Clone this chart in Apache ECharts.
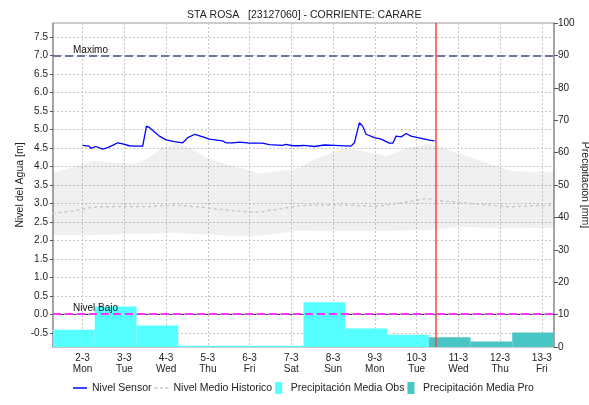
<!DOCTYPE html>
<html>
<head>
<meta charset="utf-8">
<script src="https://cdn.jsdelivr.net/npm/echarts@6/dist/echarts.min.js"></script>
<style>
  html, body { margin: 0; padding: 0; background: #fff; }
  #chart { width: 589px; height: 405px; }
</style>
</head>
<body>
<div id="chart"></div>
<script>
// eje x: dias de marzo (la jornada va de 07:00 a 07:00)
const tickDays = [2, 3, 4, 5, 6, 7, 8, 9, 10, 11, 12, 13]
const tickWeekdays = ['Mon', 'Tue', 'Wed', 'Thu', 'Fri', 'Sat', 'Sun', 'Mon', 'Tue', 'Wed', 'Thu', 'Fri']
const monthNum = 3
const dayStartHour = 7
const levelTicks = [-0.5, 0, 0.5, 1, 1.5, 2, 2.5, 3, 3.5, 4, 4.5, 5, 5.5, 6, 6.5, 7, 7.5]

// nivel del sensor [m]
const sensorDay = [2.00, 2.16, 2.20, 2.32, 2.48, 2.60, 2.72, 2.84, 2.96, 3.12, 3.24, 3.44, 3.53, 3.60, 3.72, 3.84,
  4.00, 4.20, 4.40, 4.52, 4.69, 4.88, 5.04, 5.35, 5.44, 5.59, 5.76, 6.00, 6.31, 6.47, 6.79, 6.87, 7.03, 7.19,
  7.31, 7.55, 7.79, 8.03, 8.43, 8.51, 8.63, 8.71, 8.79, 8.99, 9.15, 9.35, 9.43, 9.51, 9.63, 9.75, 9.87, 10.03,
  10.19, 10.31, 10.43]
const sensorLevel = [4.57, 4.55, 4.49, 4.54, 4.47, 4.51, 4.57, 4.64, 4.61, 4.56, 4.55, 4.55, 5.09, 5.05, 4.94, 4.82,
  4.72, 4.67, 4.64, 4.78, 4.87, 4.80, 4.74, 4.69, 4.64, 4.64, 4.66, 4.63, 4.63, 4.59, 4.57, 4.60, 4.56, 4.56,
  4.57, 4.54, 4.58, 4.57, 4.55, 4.64, 5.18, 5.09, 4.87, 4.78, 4.74, 4.63, 4.63, 4.82, 4.80, 4.89, 4.82, 4.78,
  4.74, 4.71, 4.69]

// historico: minimo, maximo y medio [m]
const histDay = [1.28, 1.75, 2.25, 2.75, 3.25, 3.6, 3.9, 4.25, 4.55, 5.0, 5.5, 6.0, 6.25, 6.75, 7.2, 7.55, 8.0,
  8.3, 8.7, 9.0, 9.3, 9.7, 10.25, 10.5, 11.0, 11.5, 12.0, 12.3, 12.75, 13.3]
const histMin = [2.15, 2.15, 2.15, 2.16, 2.18, 2.19, 2.20, 2.22, 2.18, 2.16, 2.13, 2.12, 2.13, 2.20, 2.27, 2.26, 2.26,
  2.26, 2.26, 2.26, 2.26, 2.27, 2.28, 2.30, 2.37, 2.35, 2.33, 2.33, 2.34, 2.34]
const histMax = [3.83, 3.98, 4.15, 4.11, 4.07, 4.24, 4.50, 4.64, 4.51, 4.22, 4.05, 3.90, 3.81, 3.88, 3.96, 4.20, 4.38,
  4.50, 4.42, 4.35, 4.28, 4.47, 4.62, 4.56, 4.36, 4.17, 3.98, 3.87, 3.86, 3.86]
const histMean = [2.73, 2.80, 2.90, 2.92, 2.92, 2.92, 2.94, 2.96, 2.93, 2.88, 2.82, 2.77, 2.77, 2.86, 2.94, 2.96, 2.96,
  2.96, 2.94, 2.92, 2.96, 3.03, 3.14, 3.08, 3.03, 2.98, 2.93, 2.91, 2.94, 2.96]

// precipitacion diaria [mm]
const obsDay = [1, 2, 3, 4, 5, 6, 7, 8, 9]
const obsRain = [5.3, 12.5, 6.6, 0.4, 0.4, 0.4, 13.8, 5.7, 3.8]
const proDay = [10, 11, 12]
const proRain = [3.0, 1.7, 4.5]

// umbrales y hora actual
const nivelMaximo = 7.0
const nivelBajo = 0.03
const nowDay = 10.45

const FONT = 'Liberation Sans'
const chart = echarts.init(document.getElementById('chart'))

const barItem = (params, api) => {
  const p0 = api.coord([api.value(0), api.value(2)])
  const p1 = api.coord([api.value(1), 0])
  return {
    type: 'rect',
    shape: { x: p0[0], y: p0[1], width: p1[0] - p0[0], height: p1[1] - p0[1] },
    style: api.style(),
  }
}

// banda historica min-max como un solo poligono
const bandItem = (params, api) => {
  if (params.dataIndex !== 0) return null
  const pts = []
  for (let i = 0; i < histDay.length; i++) pts.push(api.coord([histDay[i], histMax[i]]))
  for (let i = histDay.length - 1; i >= 0; i--) pts.push(api.coord([histDay[i], histMin[i]]))
  return { type: 'polygon', shape: { points: pts }, style: { fill: 'rgba(0,0,0,0.06)' } }
}

const toBars = (days, vals) => days.map((d, i) => [d + dayStartHour / 24, d + 1 + dayStartHour / 24, vals[i]])

const option = {
  animation: false,
  textStyle: { fontFamily: FONT },
  title: {
    text: 'STA ROSA   [23127060] - CORRIENTE: CARARE',
    left: 182,
    top: 5,
    textStyle: { fontSize: 10.5, fontWeight: 'normal', color: '#222', fontFamily: FONT },
  },
  grid: {
    left: 53,
    right: 35,
    top: 23,
    bottom: 58,
    containLabel: false,
    outerBoundsMode: 'none',
    show: true,
    borderColor: '#999',
    borderWidth: 1,
  },
  legend: {
    bottom: 6,
    left: 68,
    itemWidth: 14,
    itemHeight: 12,
    itemGap: 3,
    textStyle: { fontSize: 10.5, color: '#222', fontFamily: FONT },
    data: [
      { name: 'Nivel Sensor', icon: 'path://M0,0H14V1.5H0Z' },
      { name: 'Nivel Medio Historico', icon: 'path://M0,0H3V1.5H0ZM5,0H8V1.5H5ZM10,0H13V1.5H10Z' },
      { name: 'Precipitación Media Obs', icon: 'path://M0,0H7V12H0Z' },
      { name: 'Precipitación Media Pro', icon: 'path://M0,0H7V12H0Z' },
    ],
  },
  xAxis: {
    type: 'value',
    min: 1 + dayStartHour / 24,
    max: 13 + dayStartHour / 24,
    axisLine: { show: true, lineStyle: { color: '#333', type: 'dotted' } },
    axisTick: { show: false, customValues: tickDays },
    axisLabel: {
      customValues: tickDays,
      fontSize: 10,
      color: '#222',
      lineHeight: 11,
      margin: 6,
      formatter: (v) => {
        const i = tickDays.indexOf(v)
        return tickDays[i] + '-' + monthNum + '\n' + tickWeekdays[i]
      },
    },
    splitLine: { show: true, lineStyle: { color: '#c8c8c8', type: [2, 2] } },
  },
  yAxis: [
    {
      type: 'value',
      min: -0.875,
      max: 7.875,
      name: 'Nivel del Agua [m]',
      nameLocation: 'middle',
      nameMoveOverlap: false,
      nameGap: 27,
      nameTextStyle: { fontSize: 10.5, color: '#222' },
      axisLine: { show: true, lineStyle: { color: '#999', width: 1.5 } },
      axisTick: { show: true, length: 3, customValues: levelTicks, lineStyle: { color: '#555' } },
      axisLabel: {
        customValues: levelTicks,
        fontSize: 10,
        color: '#222',
        margin: 5,
        formatter: (v) => v.toFixed(1),
      },
      splitLine: { show: true, lineStyle: { color: '#c8c8c8', type: [2, 2] } },
    },
    {
      type: 'value',
      min: 0,
      max: 100,
      interval: 10,
      position: 'right',
      name: 'Precipitación [mm]',
      nameLocation: 'middle',
      nameMoveOverlap: false,
      nameRotate: -90,
      nameGap: 25,
      nameTextStyle: { fontSize: 10.5, color: '#222' },
      axisLine: { show: true, lineStyle: { color: '#999', width: 1.5 } },
      axisTick: { show: true, length: 4, lineStyle: { color: '#555' } },
      axisLabel: { fontSize: 10, color: '#222', margin: 4 },
      splitLine: { show: false },
    },
  ],
  series: [
    {
      name: 'Precipitación Media Obs',
      type: 'custom',
      yAxisIndex: 1,
      clip: true,
      renderItem: barItem,
      encode: { x: [0, 1], y: 2 },
      itemStyle: { color: '#55ffff' },
      data: toBars(obsDay, obsRain),
    },
    {
      name: 'Precipitación Media Pro',
      type: 'custom',
      yAxisIndex: 1,
      clip: true,
      renderItem: barItem,
      encode: { x: [0, 1], y: 2 },
      itemStyle: { color: '#48c6c6' },
      data: toBars(proDay, proRain),
    },
    {
      name: 'Rango Historico',
      type: 'custom',
      yAxisIndex: 0,
      clip: true,
      silent: true,
      renderItem: bandItem,
      encode: { x: 0, y: [1, 2] },
      data: histDay.map((d, i) => [d, histMin[i], histMax[i]]),
    },
    {
      name: 'Nivel Medio Historico',
      type: 'line',
      symbol: 'none',
      itemStyle: { color: '#c8c8c8' },
      lineStyle: { color: '#c8c8c8', width: 1.5, type: [3, 3] },
      data: histDay.map((d, i) => [d, histMean[i]]),
    },
    {
      name: 'Nivel Sensor',
      type: 'line',
      symbol: 'none',
      itemStyle: { color: '#0000ff' },
      lineStyle: { color: '#0000ff', width: 1.3 },
      data: sensorDay.map((d, i) => [d, sensorLevel[i]]),
      markLine: {
        silent: true,
        symbol: 'none',
        animation: false,
        data: [
          {
            yAxis: nivelMaximo,
            lineStyle: { color: '#6a78a8', width: 2, type: [8, 4] },
            label: { show: true, formatter: 'Maximo', position: 'insideStartTop', distance: [20, 0], fontSize: 10, color: '#111' },
          },
          {
            yAxis: nivelBajo,
            lineStyle: { color: '#ff33ff', width: 2, type: [8, 4] },
            label: { show: true, formatter: 'Nivel Bajo', position: 'insideStartTop', distance: [20, 0], fontSize: 10, color: '#111' },
          },
          {
            xAxis: nowDay,
            lineStyle: { color: '#ff4040', width: 1.5, type: 'solid' },
            label: { show: false },
          },
        ],
      },
    },
  ],
}

chart.setOption(option)
</script>
</body>
</html>
